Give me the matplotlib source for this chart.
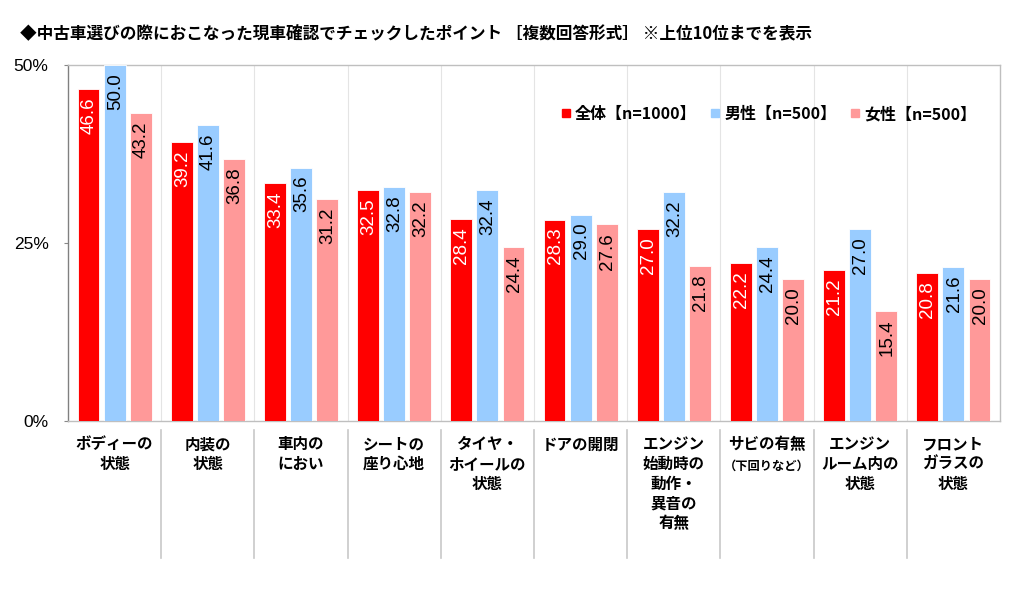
import matplotlib
matplotlib.use("Agg")
import matplotlib.pyplot as plt
from matplotlib.lines import Line2D
import matplotlib.transforms as mtransforms
import numpy as np

plt.rcParams['font.family'] = ['Noto Sans CJK JP', 'DejaVu Sans']

categories = ["ボディーの\n状態", "内装の\n状態", "車内の\nにおい", "シートの\n座り心地",
              "タイヤ・\nホイールの\n状態", "ドアの開閉", "エンジン\n始動時の\n動作・\n異音の\n有無",
              "サビの有無", "エンジン\nルーム内の\n状態", "フロント\nガラスの\n状態"]
total = [46.6, 39.2, 33.4, 32.5, 28.4, 28.3, 27.0, 22.2, 21.2, 20.8]
male = [50.0, 41.6, 35.6, 32.8, 32.4, 29.0, 32.2, 24.4, 27.0, 21.6]
female = [43.2, 36.8, 31.2, 32.2, 24.4, 27.6, 21.8, 20.0, 15.4, 20.0]
series_names = ["全体【n=1000】", "男性【n=500】", "女性【n=500】"]
colors = ["#FF0000", "#99CCFF", "#FF9999"]
label_colors = ["white", "black", "black"]
yticks = [0, 25, 50]
ytick_labels = ["0%", "25%", "50%"]
title = "◆中古車選びの際におこなった現車確認でチェックしたポイント ［複数回答形式］ ※上位10位までを表示"

fig = plt.figure(figsize=(10.24, 5.9), dpi=100)
ax = fig.add_axes([68/1024, 1-421/590, 932/1024, 356/590])

x = np.arange(len(categories))
width = 0.235
offsets = [-0.28, 0.0, 0.28]
for vals, off, c, lc in zip([total, male, female], offsets, colors, label_colors):
    bars = ax.bar(x + off, vals, width=width, color=c, edgecolor='white', linewidth=0.6, zorder=3)
    for b, v in zip(bars, vals):
        ax.annotate(f"{v:.1f}", (b.get_x() + b.get_width()/2, v), xytext=(0.5, -6),
                    textcoords='offset points', rotation=90, ha='center', va='top',
                    color=lc, fontsize=13.5, family=['Liberation Sans', 'DejaVu Sans'], zorder=4)

ax.set_xlim(-0.5, len(categories) - 0.5)
ax.set_ylim(0, 50)
ax.set_yticks(yticks)
ax.set_yticklabels(ytick_labels, fontsize=12.5, family=['Liberation Sans', 'DejaVu Sans'])
ax.tick_params(axis='y', length=3, color='#888888', pad=11)
ax.set_xticks([])
for s in ['top', 'right', 'bottom']:
    ax.spines[s].set_color('#BFBFBF')
ax.spines['left'].set_color('#808080')
for s in ax.spines.values():
    s.set_linewidth(1.0)

# inner separators
for k in range(1, len(categories)):
    ax.axvline(k - 0.5, color='#E4E4E4', linewidth=0.8, zorder=1)

# outer separators and category labels
trans = mtransforms.blended_transform_factory(ax.transData, ax.transAxes)
for k in range(1, len(categories)):
    ax.plot([k - 0.5, k - 0.5], [-0.025, -0.385], transform=trans, color='#C8C8C8',
            linewidth=1.2, clip_on=False)
for i, lab in enumerate(categories):
    ax.text(i, -0.043, lab, transform=trans, ha='center', va='top', fontsize=11.2,
            fontweight='bold', linespacing=1.28)
ax.text(7, -0.108, "（下回りなど）", transform=trans, ha='center', va='top', fontsize=8.8,
        fontweight='bold')

handles = [Line2D([0], [0], marker='s', linestyle='none', markersize=6,
                  markerfacecolor=c, markeredgecolor=c) for c in colors]
leg = ax.legend(handles, series_names, ncol=3, loc='upper right', bbox_to_anchor=(0.99, 0.925),
                frameon=False, handlelength=0.6, handletextpad=0.25, columnspacing=0.9,
                prop={'weight': 'bold', 'size': 11.5})

fig.text(20/1024, 1-33/590, title, fontsize=12, fontweight='bold', ha='left', va='center')

fig.savefig("out.png", dpi=100)
